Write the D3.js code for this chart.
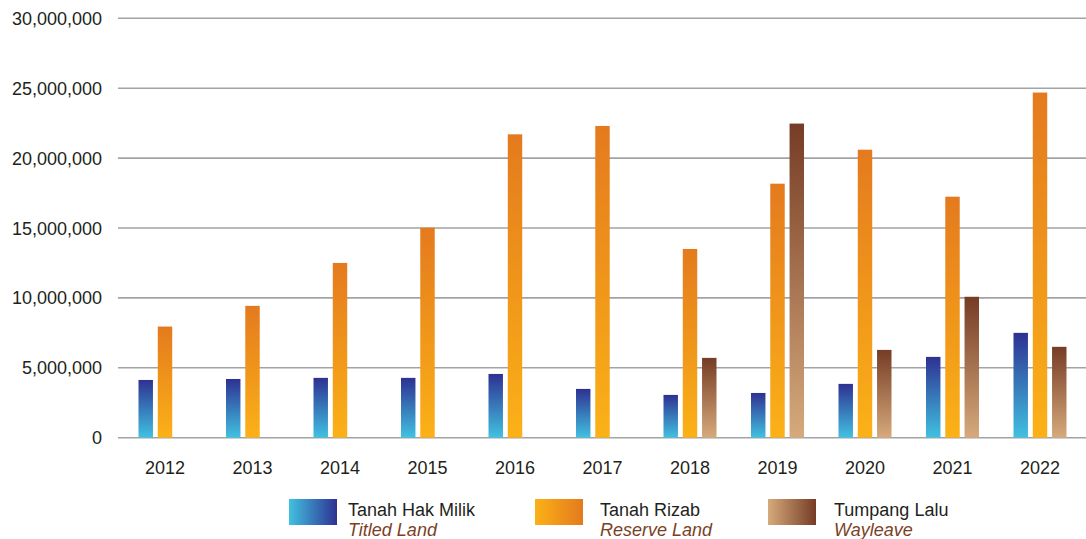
<!DOCTYPE html>
<html>
<head>
<meta charset="utf-8">
<script src="https://cdn.jsdelivr.net/npm/d3@7"></script>
<style>
  body { margin: 0; background: #fff; }
  svg { display: block; font-family: "Liberation Sans", Arial, Helvetica, sans-serif; }
</style>
</head>
<body>
<script>
// data
var years = ["2012", "2013", "2014", "2015", "2016", "2017", "2018", "2019", "2020", "2021", "2022"];
var titledLand  = [4130000, 4200000, 4280000, 4280000, 4560000, 3490000, 3060000, 3200000, 3850000, 5780000, 7500000];
var reserveLand = [7950000, 9430000, 12500000, 15020000, 21700000, 22300000, 13500000, 18170000, 20600000, 17240000, 24690000];
var wayleave    = [null, null, null, null, null, null, 5710000, 22470000, 6280000, 10080000, 6500000];
var yTicks = [0, 5000000, 10000000, 15000000, 20000000, 25000000, 30000000];

var seriesKeys = ["titled", "reserve", "wayleave"];
var seriesNames = ["Tanah Hak Milik", "Tanah Rizab", "Tumpang Lalu"];
var seriesSub = ["Titled Land", "Reserve Land", "Wayleave"];
var seriesValues = [titledLand, reserveLand, wayleave];
// gradient stops: [top colour, bottom colour]
var seriesColors = [["#2e3192", "#41c1e1"], ["#e47a1e", "#fbb117"], ["#763c25", "#d6aa7c"]];

var width = 1086, height = 539;

var svg = d3.select("body").append("svg")
    .attr("width", width)
    .attr("height", height);

var defs = svg.append("defs");
seriesKeys.forEach(function(k, i) {
  var g = defs.append("linearGradient").attr("id", "bar-" + k)
      .attr("x1", 0).attr("y1", 0).attr("x2", 0).attr("y2", 1);
  g.append("stop").attr("offset", "0%").attr("stop-color", seriesColors[i][0]);
  g.append("stop").attr("offset", "100%").attr("stop-color", seriesColors[i][1]);
  var h = defs.append("linearGradient").attr("id", "leg-" + k)
      .attr("x1", 0).attr("y1", 0).attr("x2", 1).attr("y2", 0);
  h.append("stop").attr("offset", "0%").attr("stop-color", seriesColors[i][1]);
  h.append("stop").attr("offset", "100%").attr("stop-color", seriesColors[i][0]);
});

// scales
var x = d3.scaleBand()
    .domain(years)
    .range([121.25, 1083.75])
    .padding(0);
var xs = d3.scaleBand()
    .domain(seriesKeys)
    .range([-26.5, 26.5])
    .paddingInner(0.25)
    .paddingOuter(0);
var y = d3.scaleLinear()
    .domain([0, 30000000])
    .range([437.7, 18.3]);

// grid lines + y labels
var grid = svg.append("g");
grid.selectAll("line")
    .data(yTicks)
  .enter().append("line")
    .attr("x1", 118).attr("x2", width)
    .attr("y1", function(d) { return y(d); })
    .attr("y2", function(d) { return y(d); })
    .attr("stroke", "#a3a3a3")
    .attr("stroke-width", 1.6);
grid.selectAll("text")
    .data(yTicks)
  .enter().append("text")
    .attr("x", 102)
    .attr("y", function(d) { return y(d) + 6.5; })
    .attr("text-anchor", "end")
    .attr("font-size", 18)
    .attr("fill", "#231f20")
    .text(d3.format(","));

// bars
var rows = [];
years.forEach(function(yr, i) {
  seriesKeys.forEach(function(k, j) {
    var v = seriesValues[j][i];
    if (v != null) rows.push({year: yr, key: k, value: v});
  });
});

svg.append("g").selectAll("rect")
    .data(rows)
  .enter().append("rect")
    .attr("x", function(d) { return x(d.year) + x.bandwidth() / 2 + xs(d.key); })
    .attr("width", xs.bandwidth())
    .attr("y", function(d) { return y(d.value); })
    .attr("height", function(d) { return y(0) - y(d.value); })
    .attr("fill", function(d) { return "url(#bar-" + d.key + ")"; });

// x axis labels
svg.append("g").selectAll("text")
    .data(years)
  .enter().append("text")
    .attr("x", function(d) { return x(d) + x.bandwidth() / 2; })
    .attr("y", 473.5)
    .attr("text-anchor", "middle")
    .attr("font-size", 18)
    .attr("fill", "#231f20")
    .text(function(d) { return d; });

// legend
var legendX = [289, 535, 768];
var legend = svg.append("g").selectAll("g")
    .data(seriesKeys)
  .enter().append("g")
    .attr("transform", function(d, i) { return "translate(" + legendX[i] + ",499)"; });
legend.append("rect")
    .attr("width", 48).attr("height", 26)
    .attr("fill", function(d) { return "url(#leg-" + d + ")"; });
legend.append("text")
    .attr("x", function(d, i) { return [59, 65, 66][i]; })
    .attr("y", 16.5)
    .attr("font-size", 18)
    .attr("fill", "#231f20")
    .text(function(d, i) { return seriesNames[i]; });
legend.append("text")
    .attr("x", function(d, i) { return [59, 65, 66][i]; })
    .attr("y", 37)
    .attr("font-size", 18)
    .attr("font-style", "italic")
    .attr("fill", "#7b3f26")
    .text(function(d, i) { return seriesSub[i]; });
</script>
</body>
</html>
